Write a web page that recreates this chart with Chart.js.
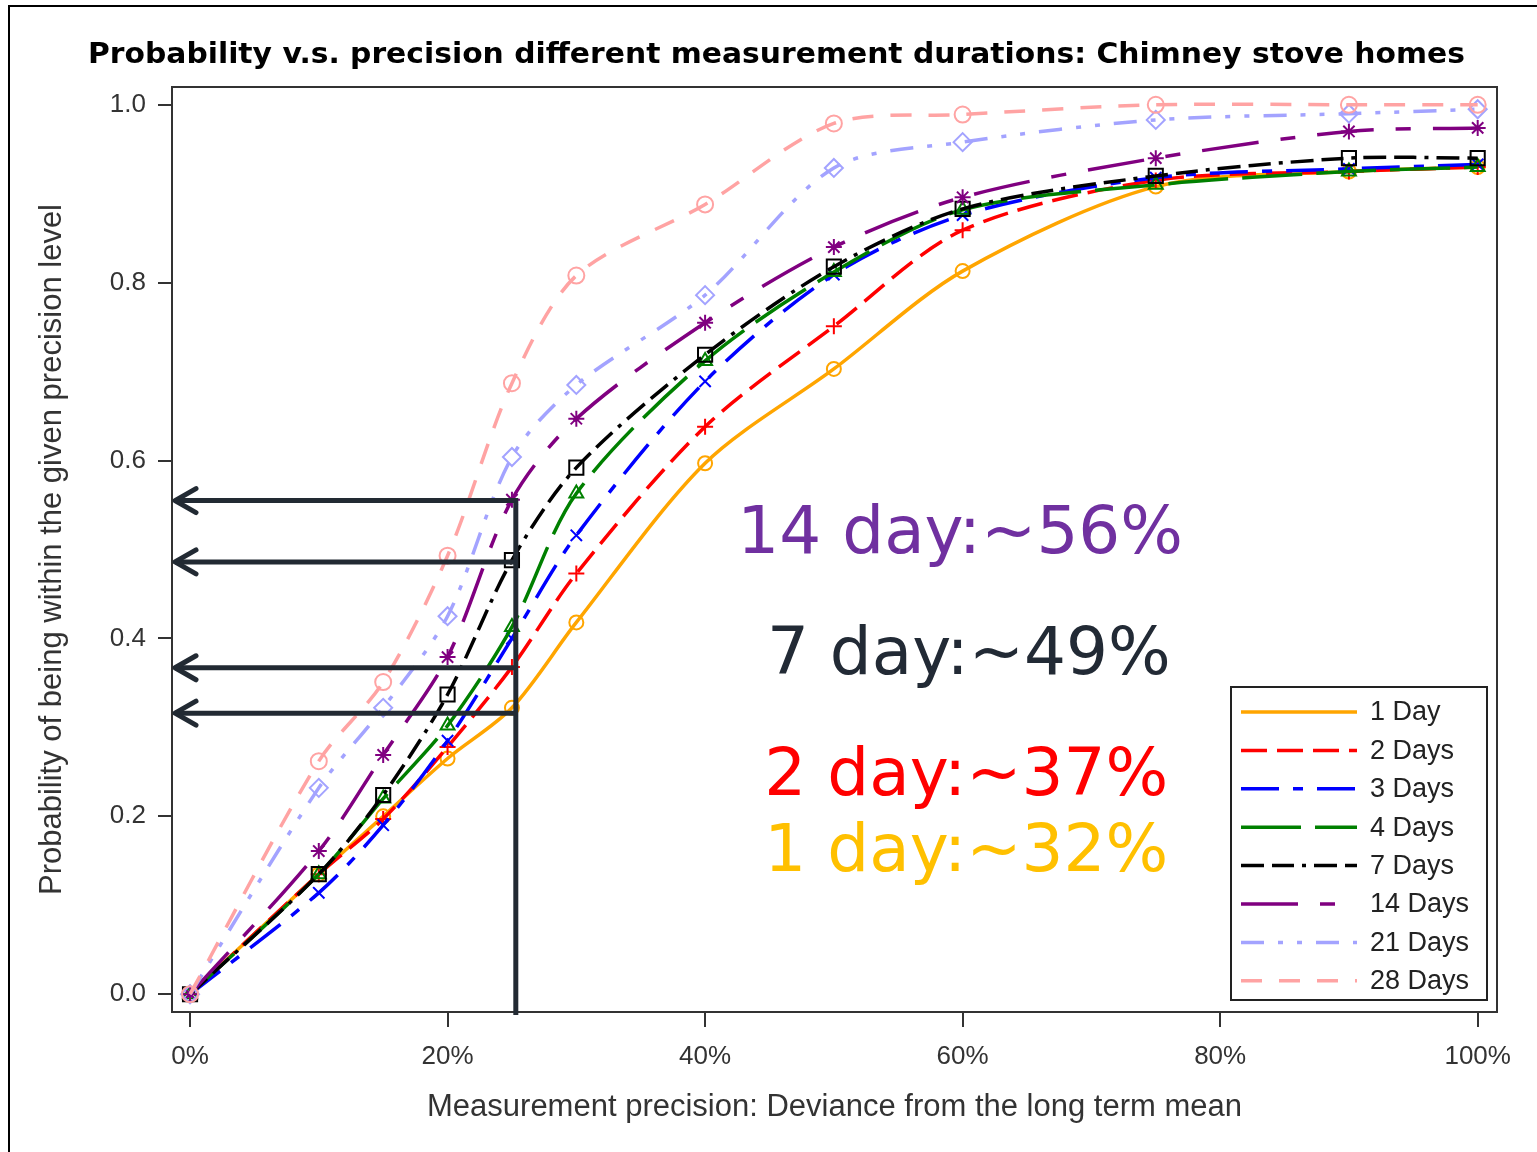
<!DOCTYPE html>
<html>
<head>
<meta charset="utf-8">
<title>Probability v.s. precision - Chimney stove homes</title>
<script src="https://cdn.jsdelivr.net/npm/chart.js@4.4.1/dist/chart.umd.min.js"></script>
<style>
  html, body { margin: 0; padding: 0; background: #fff; }
  #wrap { position: relative; width: 1537px; height: 1152px; }
</style>
</head>
<body>
<div id="wrap"><canvas id="chart" width="1537" height="1152"></canvas></div>
<script>
// ── Data ───────────────────────────────────────────────────
const precision = [0, 10, 15, 20, 25, 30, 40, 50, 60, 75, 90, 100];

const day1  = [0, 0.135, 0.200, 0.265, 0.322, 0.418, 0.597, 0.703, 0.813, 0.908, 0.925, 0.930];
const day2  = [0, 0.135, 0.197, 0.278, 0.368, 0.473, 0.638, 0.751, 0.859, 0.915, 0.925, 0.930];
const day3  = [0, 0.114, 0.190, 0.285, 0.400, 0.516, 0.689, 0.809, 0.876, 0.918, 0.928, 0.933];
const day4  = [0, 0.135, 0.220, 0.302, 0.413, 0.563, 0.712, 0.812, 0.882, 0.910, 0.925, 0.930];
const day7  = [0, 0.135, 0.224, 0.337, 0.488, 0.592, 0.719, 0.818, 0.883, 0.920, 0.940, 0.940];
const day14 = [0, 0.161, 0.269, 0.379, 0.556, 0.647, 0.755, 0.840, 0.896, 0.940, 0.970, 0.974];
const day21 = [0, 0.232, 0.322, 0.425, 0.604, 0.685, 0.786, 0.929, 0.958, 0.983, 0.990, 0.995];
const day28 = [0, 0.262, 0.351, 0.493, 0.687, 0.808, 0.888, 0.979, 0.989, 1.000, 1.000, 1.000];

const seriesNames = ['1 Day', '2 Days', '3 Days', '4 Days', '7 Days', '14 Days', '21 Days', '28 Days'];
const seriesValues = [day1, day2, day3, day4, day7, day14, day21, day28];

const xTicks = [0, 20, 40, 60, 80, 100];
const yTicks = [0, 0.2, 0.4, 0.6, 0.8, 1.0];

// arrows drawn from 25% precision to the y axis
const arrowAt = 25.3;
const arrowLevels = [0.555, 0.486, 0.367, 0.316];
const notes = ['14 day:~56%', '7 day:~49%', '2 day:~37%', '1 day:~32%'];

// ── Styles ─────────────────────────────────────────────────
const lineStyles = [
    { color: '#FFA500', dash: [],                     point: 'circle',   r: 7 },
    { color: '#FF0000', dash: [26, 10],               point: 'cross',    r: 8 },
    { color: '#0000FF', dash: [38, 14, 10, 14],       point: 'crossRot', r: 8 },
    { color: '#008000', dash: [60, 14],               point: 'triangle', r: 8 },
    { color: '#000000', dash: [23, 8, 22, 8, 4, 8],   point: 'rect',     r: 10 },
    { color: '#800080', dash: [57, 22, 15, 22],       point: 'star',     r: 8 },
    { color: '#A3A3FF', dash: [23, 14, 5, 14, 5, 14], point: 'rectRot',  r: 9 },
    { color: '#FFA3A3', dash: [21, 17],               point: 'circle',   r: 8 }
];
const noteColors = ['#7030A0', '#222A35', '#FF0000', '#FFC000'];
const noteAnchors = [[42.5, 0.496], [44.8, 0.360], [44.6, 0.224], [44.6, 0.139]];

const axisFont = "'Liberation Sans', Arial, sans-serif";

const datasets = seriesNames.map((name, i) => ({
    label: name,
    data: precision.map((x, j) => ({ x: x, y: seriesValues[i][j] })),
    borderColor: lineStyles[i].color,
    borderWidth: 3.5,
    borderDash: lineStyles[i].dash,
    tension: 0.3,
    pointStyle: lineStyles[i].point,
    pointRadius: lineStyles[i].r,
    pointBorderWidth: 2,
    pointBorderColor: lineStyles[i].color,
    pointBackgroundColor: 'rgba(0,0,0,0)',
    fill: false,
    order: -i
}));

// ── Decorations: frame, title, box, arrows, notes, legend ─────
const decor = {
    id: 'decor',
    beforeDraw(chart) {
        const ctx = chart.ctx;
        ctx.save();
        ctx.fillStyle = '#fff';
        ctx.fillRect(0, 0, chart.width, chart.height);
        ctx.strokeStyle = '#000';
        ctx.lineWidth = 2;
        ctx.beginPath();
        ctx.moveTo(9, chart.height);
        ctx.lineTo(9, 6);
        ctx.lineTo(chart.width, 6);
        ctx.stroke();

        // title, squeezed to the width it has in the figure
        const title = 'Probability v.s. precision different measurement durations: Chimney stove homes';
        ctx.font = "bold 28px 'DejaVu Sans', Verdana, sans-serif";
        ctx.fillStyle = '#000';
        ctx.textBaseline = 'alphabetic';
        const w = ctx.measureText(title).width;
        ctx.translate(88, 63);
        ctx.scale(1377 / w, 1);
        ctx.fillText(title, 0, 0);
        ctx.restore();
    },
    afterDatasetsDraw(chart) {
        const ctx = chart.ctx;
        const a = chart.chartArea;
        const xs = chart.scales.x, ys = chart.scales.y;
        ctx.save();

        // plot box
        ctx.strokeStyle = '#333';
        ctx.lineWidth = 2;
        ctx.strokeRect(a.left, a.top, a.right - a.left, a.bottom - a.top);

        // arrows
        ctx.strokeStyle = '#222A33';
        ctx.lineWidth = 5;
        const vx = xs.getPixelForValue(arrowAt);
        ctx.beginPath();
        ctx.moveTo(vx, ys.getPixelForValue(Math.max(...arrowLevels)) - 2.5);
        ctx.lineTo(vx, a.bottom + 3);
        ctx.stroke();
        arrowLevels.forEach(v => {
            const y = ys.getPixelForValue(v);
            ctx.lineCap = 'butt';
            ctx.beginPath();
            ctx.moveTo(vx, y);
            ctx.lineTo(a.left + 3, y);
            ctx.stroke();
            ctx.lineCap = 'round';
            ctx.lineJoin = 'round';
            ctx.beginPath();
            ctx.moveTo(a.left + 24, y - 12);
            ctx.lineTo(a.left + 3, y);
            ctx.lineTo(a.left + 24, y + 12);
            ctx.stroke();
        });

        // big notes
        ctx.font = "66px 'DejaVu Sans', Verdana, sans-serif";
        ctx.textBaseline = 'alphabetic';
        notes.forEach((t, i) => {
            ctx.fillStyle = noteColors[i];
            ctx.fillText(t, xs.getPixelForValue(noteAnchors[i][0]), ys.getPixelForValue(noteAnchors[i][1]));
        });
        ctx.restore();
    },
    afterDraw(chart) {
        const ctx = chart.ctx;
        ctx.save();
        const bx = 1231, by = 687, bw = 256, bh = 313;
        ctx.fillStyle = '#fff';
        ctx.fillRect(bx, by, bw, bh);
        ctx.strokeStyle = '#222';
        ctx.lineWidth = 2;
        ctx.strokeRect(bx, by, bw, bh);
        ctx.font = '27px ' + axisFont;
        ctx.textBaseline = 'middle';
        seriesNames.forEach((name, i) => {
            const y = by + 25 + i * 38.4;
            ctx.strokeStyle = lineStyles[i].color;
            ctx.lineWidth = 3.5;
            ctx.setLineDash(lineStyles[i].dash);
            ctx.beginPath();
            ctx.moveTo(bx + 10, y);
            ctx.lineTo(bx + 126, y);
            ctx.stroke();
            ctx.setLineDash([]);
            ctx.fillStyle = '#222';
            ctx.fillText(name, bx + 139, y + 1);
        });
        ctx.restore();
    }
};

new Chart(document.getElementById('chart'), {
    type: 'line',
    data: { datasets: datasets },
    options: {
        responsive: false,
        animation: false,
        events: [],
        layout: { padding: { left: 20, top: 87, right: 40, bottom: 20 } },
        plugins: {
            legend: { display: false },
            tooltip: { enabled: false },
            title: { display: false }
        },
        scales: {
            x: {
                type: 'linear',
                min: -1.4,
                max: 101.5,
                afterFit: s => { s.height = 120; },
                afterBuildTicks: s => { s.ticks = xTicks.map(v => ({ value: v })); },
                ticks: {
                    color: '#333',
                    font: { family: axisFont, size: 26 },
                    padding: 14,
                    maxRotation: 0,
                    callback: v => v + '%'
                },
                grid: { drawOnChartArea: false, drawTicks: true, tickLength: 15, color: '#333', lineWidth: 2 },
                border: { display: false },
                title: {
                    display: true,
                    text: 'Measurement precision: Deviance from the long term mean',
                    color: '#333',
                    font: { family: axisFont, size: 31 },
                    padding: { top: 0, bottom: 6 }
                }
            },
            y: {
                type: 'linear',
                min: -0.02,
                max: 1.02,
                afterFit: s => { s.width = 152; },
                afterBuildTicks: s => { s.ticks = yTicks.map(v => ({ value: v })); },
                ticks: {
                    color: '#333',
                    font: { family: axisFont, size: 26 },
                    padding: 12,
                    callback: v => v.toFixed(1)
                },
                grid: { drawOnChartArea: false, drawTicks: true, tickLength: 14, color: '#333', lineWidth: 2 },
                border: { display: false },
                title: {
                    display: true,
                    text: 'Probability of being within the given precision level',
                    color: '#333',
                    font: { family: axisFont, size: 31 },
                    padding: { top: 14, bottom: 0 }
                }
            }
        }
    },
    plugins: [decor]
});
</script>
</body>
</html>
